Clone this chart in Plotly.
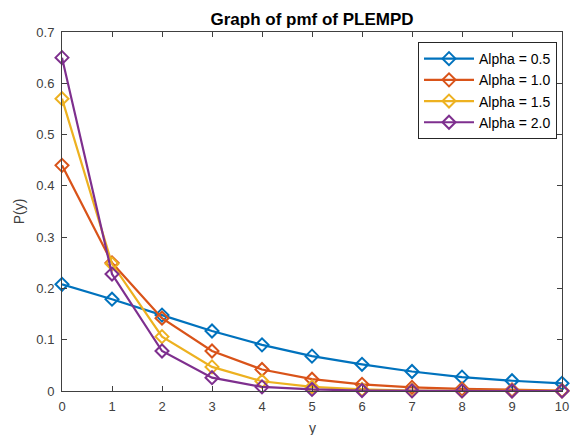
import plotly.graph_objects as go

y_vals = [0, 1, 2, 3, 4, 5, 6, 7, 8, 9, 10]
series_names = ["Alpha = 0.5", "Alpha = 1.0", "Alpha = 1.5", "Alpha = 2.0"]
p_alpha_05 = [0.208, 0.179, 0.148, 0.117, 0.090, 0.068, 0.052, 0.038, 0.027, 0.020, 0.015]
p_alpha_10 = [0.440, 0.250, 0.142, 0.078, 0.042, 0.023, 0.013, 0.007, 0.004, 0.002, 0.001]
p_alpha_15 = [0.570, 0.248, 0.106, 0.047, 0.019, 0.008, 0.003, 0.001, 0.0005, 0.0002, 0.0001]
p_alpha_20 = [0.650, 0.228, 0.078, 0.026, 0.008, 0.003, 0.001, 0.0003, 0.0001, 0.0, 0.0]
colors = ["#0072BD", "#D95319", "#EDB120", "#7E2F8E"]
x_ticks = [0, 1, 2, 3, 4, 5, 6, 7, 8, 9, 10]
y_ticks = [0, 0.1, 0.2, 0.3, 0.4, 0.5, 0.6, 0.7]
y_tick_labels = ["0", "0.1", "0.2", "0.3", "0.4", "0.5", "0.6", "0.7"]
x_title = "y"

fig = go.Figure()
for name, vals, c in zip(series_names, [p_alpha_05, p_alpha_10, p_alpha_15, p_alpha_20], colors):
    fig.add_trace(go.Scatter(
        x=y_vals, y=vals, name=name, mode="lines+markers",
        line=dict(color=c, width=2.2),
        marker=dict(symbol="diamond-open", size=10, color=c, line=dict(width=2, color=c)),
        cliponaxis=False,
    ))

font_family = "Liberation Sans, Arial, sans-serif"
axis_common = dict(
    showgrid=False, zeroline=False, showline=True, linecolor="#404040", linewidth=1,
    mirror="ticks", ticks="inside", ticklen=5, tickcolor="#404040", automargin=False,
    ticklabeloverflow="allow",
    tickfont=dict(family=font_family, size=13, color="#404040"),
)
W, H = 570, 435
L, R, T, B = 62, 562, 32, 391
fig.update_layout(
    width=W, height=H,
    margin=dict(l=L, r=W - R, t=T, b=H - B),
    paper_bgcolor="white", plot_bgcolor="white",
    title=dict(text="<b>Graph of pmf of PLEMPD</b>", x=(L + R) / 2 / W, xanchor="center",
               y=1 - 19 / H, yref="container", yanchor="middle",
               font=dict(family=font_family, size=17, color="black")),
    xaxis=dict(range=[0, 10], tickvals=x_ticks, ticklabelstandoff=3, **axis_common),
    yaxis=dict(range=[0, 0.7], tickvals=y_ticks, ticktext=y_tick_labels, ticklabelstandoff=4,
               title=dict(text="P(y)", standoff=8, font=dict(family=font_family, size=14, color="#404040")),
               **axis_common),
    legend=dict(x=0.99, y=0.972, xanchor="right", yanchor="top",
                bgcolor="white", bordercolor="#262626", borderwidth=1,
                font=dict(family=font_family, size=14, color="black"),
                tracegroupgap=0, itemwidth=50),
    showlegend=True,
)
fig.add_annotation(text=x_title, xref="paper", yref="paper", x=0.5,
                   y=-(428 - B) / (B - T), yanchor="middle",
                   showarrow=False, font=dict(family=font_family, size=14, color="#404040"))
fig.write_html("out.html", config={"displayModeBar": False},
               post_script="document.body.style.margin='0';document.body.style.overflow='hidden';")
